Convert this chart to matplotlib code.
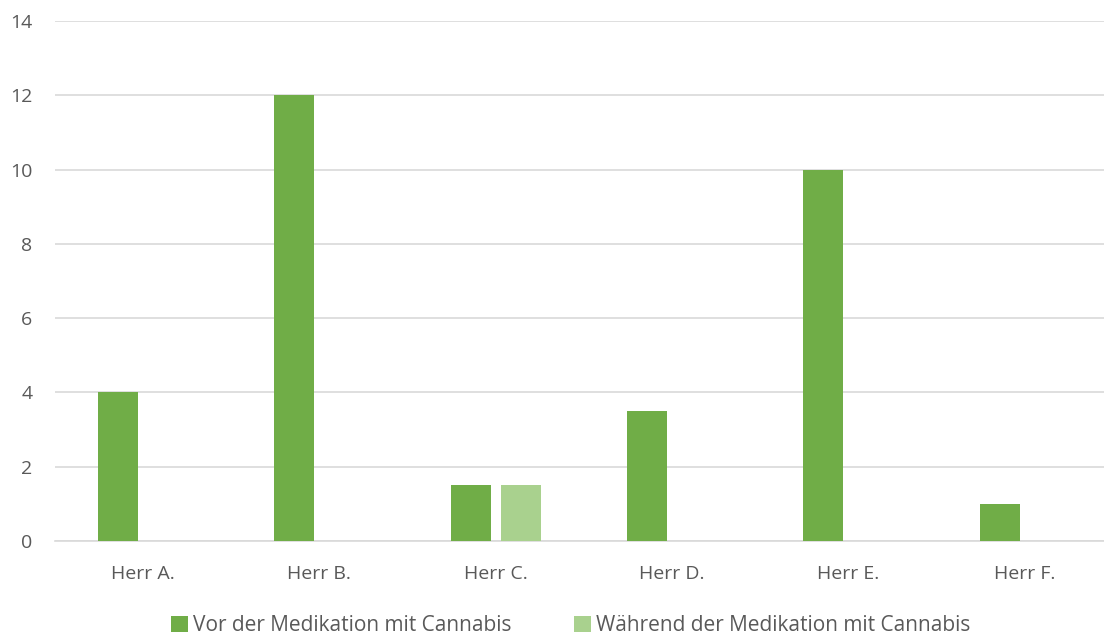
import matplotlib
matplotlib.use("Agg")
import matplotlib.pyplot as plt
import numpy as np

categories = ["Herr A.", "Herr B.", "Herr C.", "Herr D.", "Herr E.", "Herr F."]
vor_values = [4, 12, 1.5, 3.5, 10, 1]
waehrend_values = [0, 0, 1.5, 0, 0, 0]
series_labels = ["Vor der Medikation mit Cannabis", "Während der Medikation mit Cannabis"]
y_ticks = [0, 2, 4, 6, 8, 10, 12, 14]

plt.rcParams["font.family"] = ["Open Sans", "DejaVu Sans"]
text_color = "#595959"

fig = plt.figure(figsize=(11.04, 6.35), dpi=100)
ax = fig.add_axes([0.0496, 0.148, 0.9585, 0.819])

x = np.arange(len(categories))
width = 0.227
offset = 0.142
ax.bar(x - offset, vor_values, width, color="#70AD47", label=series_labels[0], zorder=3)
ax.bar(x + offset, waehrend_values, width, color="#A9D18E", label=series_labels[1], zorder=3)

ax.set_xlim(-0.5, len(categories) - 0.5)
ax.set_ylim(0, 14)
ax.set_yticks(y_ticks)
ax.set_xticks(x)
ax.set_xticklabels(categories)
ax.tick_params(axis="both", length=0, labelsize=14, colors=text_color)
ax.tick_params(axis="x", pad=17)
ax.tick_params(axis="y", pad=16)
ax.yaxis.grid(True, color="#D9D9D9", linewidth=1.2, zorder=0)
for side in ("top", "right", "left"):
    ax.spines[side].set_visible(False)
ax.spines["bottom"].set_color("#D9D9D9")
ax.spines["bottom"].set_linewidth(1.2)

fig.legend(
    loc="center",
    bbox_to_anchor=(0.517, 0.015),
    ncol=2,
    frameon=False,
    fontsize=15,
    labelcolor=text_color,
    handlelength=0.8,
    handleheight=0.8,
    handletextpad=0.25,
    columnspacing=3.0,
)

fig.savefig("out.png", dpi=100)
